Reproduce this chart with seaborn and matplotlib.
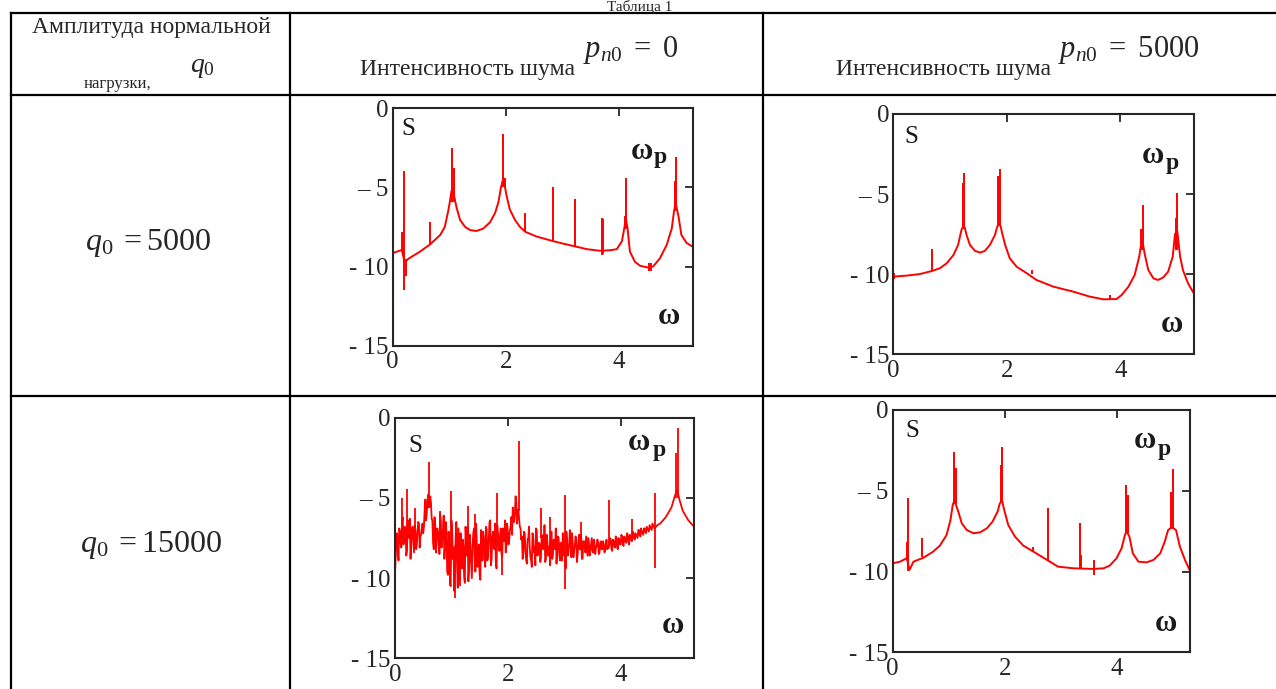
import numpy as np
import pandas as pd
import matplotlib
matplotlib.use("Agg")
import matplotlib.pyplot as plt
import seaborn as sns

# ---------------- data ----------------
x_ticks = [0, 2, 4]
x_ticklabels = ["0", "2", "4"]
y_ticks = [0, -5, -10, -15]
y_ticklabels = ["0", "\u2013 5", "- 10", "- 15"]

# panel 1: q0 = 5000, p_n0 = 0
s1_w = [0, 0.16, 0.21, 0.25, 0.28, 0.48, 0.66, 0.84, 0.92, 0.98, 1.01, 1.04, 1.07, 1.1, 1.13,
        1.19, 1.28, 1.37, 1.48, 1.6, 1.72, 1.81, 1.87, 1.91, 1.94, 1.97, 2.01, 2.07, 2.16, 2.25,
        2.34, 2.54, 2.84, 3.07, 3.43, 3.66, 3.84, 3.96, 4.05, 4.09, 4.12, 4.15, 4.19, 4.28, 4.37,
        4.52, 4.6, 4.72, 4.84, 4.93, 4.97, 5.0, 5.05, 5.1, 5.19, 5.3]
s1_S = [-9.15, -8.95, -9.7, -9.6, -9.5, -9.06, -8.6, -8.0, -7.5, -6.5, -5.9, -5.2, -5.3, -5.8, -6.3,
        -7.05, -7.5, -7.7, -7.75, -7.6, -7.2, -6.6, -5.9, -5.05, -4.6, -4.7, -5.5, -6.4, -7.05, -7.5,
        -7.8, -8.1, -8.4, -8.6, -8.9, -9.0, -8.97, -8.9, -8.4, -7.6, -7.0, -7.6, -9.05, -9.7, -9.95,
        -10.07, -10.0, -9.48, -8.64, -7.6, -6.5, -6.0, -6.85, -8.0, -8.5, -8.75]
spk1_w = [0.17, 0.20, 0.23, 0.66, 1.05, 1.08, 1.95, 1.98, 2.34, 2.84, 3.22, 3.69, 3.72, 4.10, 4.12,
          4.52, 4.56, 4.98, 5.00]
spk1_lo = [-9.0, -11.5, -10.6, -8.6, -5.9, -5.9, -5.0, -5.0, -7.8, -8.4, -8.7, -9.3, -9.2, -7.6, -7.6,
           -10.3, -10.3, -6.5, -6.5]
spk1_hi = [-7.8, -3.96, -9.5, -7.2, -2.5, -3.8, -1.6, -4.4, -6.6, -4.95, -5.7, -6.95, -7.0, -6.8, -4.4,
           -9.8, -9.8, -4.6, -3.05]

# panel 2: q0 = 5000, p_n0 = 5000
s2_w = [0, 0.23, 0.47, 0.68, 0.82, 0.94, 1.06, 1.14, 1.2, 1.23, 1.26, 1.29, 1.35, 1.44, 1.53,
        1.61, 1.7, 1.79, 1.83, 1.86, 1.89, 1.91, 1.97, 2.05, 2.17, 2.35, 2.52, 2.82, 3.17, 3.46,
        3.7, 3.93, 4.02, 4.14, 4.25, 4.33, 4.37, 4.4, 4.43, 4.49, 4.58, 4.66, 4.75, 4.84, 4.92,
        4.96, 5.0, 5.05, 5.1, 5.19, 5.3]
s2_S = [-10.15, -10.09, -9.99, -9.8, -9.63, -9.32, -8.8, -8.18, -7.24, -7.0, -7.1, -7.55, -8.18, -8.55, -8.65,
        -8.55, -8.18, -7.55, -7.03, -6.9, -7.0, -7.34, -8.18, -9.0, -9.53, -9.94, -10.36, -10.78, -11.09, -11.4,
        -11.57, -11.55, -11.3, -10.78, -10.05, -8.9, -8.0, -8.2, -8.8, -9.74, -10.26, -10.36, -10.21, -9.84, -8.9,
        -7.5, -7.3, -8.9, -9.74, -10.57, -11.25]
spk2_w = [0.02, 0.68, 1.22, 1.24, 1.85, 1.87, 2.45, 3.81, 4.37, 4.40, 4.97, 5.00]
spk2_lo = [-10.3, -9.8, -7.2, -7.2, -7.0, -7.0, -10.0, -11.6, -8.5, -8.5, -8.5, -8.5]
spk2_hi = [-9.9, -8.43, -4.3, -3.7, -3.9, -3.43, -9.75, -11.3, -7.2, -5.68, -6.5, -4.95]

# panel 3: q0 = 15000, p_n0 = 0 (noisy; read every 0.025 from 0 to 4.6 and at the midpoints)
s3_dense_S = [
    -9.7, -7.6, -8.3, -6.9, -7.8,
    -6.5, -7.9, -6.8, -8.6, -6.4, -7.5, -8.8, -6.9, -7.6, -6.7, -8.2, -7.0, -6.6, -7.4, -6.9, -7.2,
    -5.8, -6.4, -5.2, -5.6, -4.9, -6.3,
    -7.8, -6.2, -8.4, -6.9, -7.6, -6.0, -8.1, -7.0, -8.8, -6.5,
    -9.6, -7.1, -10.4, -6.4, -8.8, -10.8, -7.4, -9.2, -6.9, -10.1, -8.2, -7.6, -9.9, -6.8, -8.6, -10.2,
    -7.3, -9.1, -8.0, -6.9, -9.6, -7.7, -8.4, -9.8, -7.0, -8.9, -7.5, -9.3,
    -7.0, -8.6, -6.5, -9.2, -7.4, -8.1, -6.6, -9.4, -7.2, -8.3, -6.9, -8.7, -7.5, -6.4, -8.0, -7.1,
    -7.6, -6.8, -7.3, -6.5,
    -6.0, -5.3, -5.9, -6.3, -6.9, -7.4,
    -8.4, -7.2, -8.9, -7.6, -6.8, -8.7, -9.3, -7.4, -8.1, -6.9, -8.6, -7.8, -9.0, -7.3, -8.2, -6.7,
    -8.8, -7.7, -8.3, -9.2, -7.1, -8.5, -7.9, -6.9, -8.4, -7.5, -8.9, -8.0, -7.2, -8.6, -9.4, -7.6,
    -8.1, -7.0, -8.7, -7.8, -8.3, -7.4, -9.0, -7.9, -8.2, -7.3, -8.8, -7.7, -8.4, -8.0, -7.5, -8.6,
    -7.9, -8.3, -7.6, -8.5, -8.0, -7.8, -8.4, -7.7, -8.2, -7.9, -8.3, -7.6, -8.1, -7.9,
    -7.6, -8.3, -7.7, -8.1, -7.5, -8.2, -7.6, -7.9, -7.4, -8.0, -7.5, -7.8, -7.3, -7.9, -7.4, -7.7,
    -7.2, -7.6, -7.3, -7.5, -7.0, -7.4, -7.1, -7.3, -6.9, -7.2, -6.9, -7.1, -6.8, -7.0, -6.7, -6.9]
s3_mid_S = [
    -8.6, -7.2, -8.9, -7.1,
    -8.1, -6.2, -7.7, -6.9, -8.3, -7.0, -6.3, -8.0, -6.8, -8.4, -7.1, -7.9, -6.5, -8.1, -7.3, -6.6,
    -6.8, -5.1, -6.0, -4.8, -5.5, -5.3,
    -6.4, -8.2, -6.6, -7.9, -7.2, -8.5, -6.4, -7.6, -6.1, -8.0,
    -7.2, -9.8, -7.8, -10.5, -7.0, -8.1, -9.6, -6.5, -10.6, -8.4, -7.2, -9.4, -8.0, -10.3, -7.5, -6.8,
    -9.5, -8.1, -10.0, -7.2, -8.7, -6.6, -9.3, -7.9, -10.1, -8.2, -7.1,
    -8.6, -6.8, -8.9, -7.6, -6.4, -8.8, -7.1, -8.2, -9.0, -6.7, -7.9, -7.3, -8.5, -6.9, -7.7, -8.4,
    -6.6, -7.9, -7.0, -6.2,
    -5.6, -6.5, -4.9, -6.6, -5.7, -6.8,
    -7.6, -8.8, -7.1, -8.3, -9.1, -7.5, -8.0, -8.9, -7.2, -8.4, -9.2, -7.0, -8.5, -7.9, -8.7, -7.4,
    -8.1, -9.0, -7.3, -8.6, -8.0, -7.2, -8.8, -7.6, -8.2, -9.1, -7.4, -8.5, -7.8, -8.9, -7.5, -8.3,
    -7.1, -8.6, -7.9, -8.4, -7.2, -8.7, -8.0, -7.6, -8.5, -7.3, -8.2, -8.8, -7.7, -8.1, -7.4, -8.6,
    -7.8, -8.3, -7.5, -8.4, -7.9, -8.1, -7.6, -8.5, -7.8, -8.2, -7.7, -8.4, -7.8, -8.2,
    -8.1, -7.5, -8.2, -7.6, -8.0, -7.4, -8.1, -7.5, -7.9, -7.3, -7.8, -7.4, -7.7, -7.2, -7.7, -7.3,
    -7.6, -7.1, -7.5, -7.2, -7.4, -7.0, -7.3, -6.9, -7.2, -6.9, -7.1, -6.8, -7.0, -6.7, -6.9, -6.6,
    -6.8]
s3_tail_w = [4.65, 4.7, 4.75, 4.8, 4.85, 4.9, 4.95, 5.0, 5.05, 5.1, 5.15, 5.2, 5.25, 5.3]
s3_tail_S = [-6.7, -6.6, -6.4, -6.2, -5.9, -5.6, -5.0, -4.5, -5.2, -5.8, -6.1, -6.4, -6.6, -6.8]
spk3_w = [0.12, 0.22, 0.35, 0.61, 0.80, 0.99, 1.06, 1.15, 1.30, 1.42, 1.50, 1.80, 1.90, 2.19, 2.58,
          2.75, 3.01, 3.30, 3.79, 4.20, 4.60, 4.98, 5.01]
spk3_lo = [-7.5, -7.5, -7.6, -5.5, -7.5, -8.5, -11.26, -10.5, -8.0, -8.0, -10.0, -7.5, -9.8, -5.8, -7.5,
           -8.0, -10.7, -8.0, -8.0, -7.4, -9.4, -5.0, -5.0]
spk3_hi = [-5.0, -4.45, -5.6, -2.78, -5.8, -4.57, -8.0, -8.0, -5.5, -6.0, -8.0, -4.7, -7.8, -1.45, -5.6,
           -6.2, -4.85, -6.5, -5.1, -6.3, -4.7, -2.2, -0.66]

# panel 4: q0 = 15000, p_n0 = 5000
s4_w = [0, 0.13, 0.25, 0.3, 0.37, 0.55, 0.72, 0.84, 0.96, 1.03, 1.07, 1.1, 1.13, 1.17, 1.23,
        1.32, 1.44, 1.56, 1.68, 1.78, 1.87, 1.91, 1.95, 1.98, 2.06, 2.18, 2.33, 2.51, 2.75, 2.95,
        3.22, 3.58, 3.76, 3.87, 3.99, 4.08, 4.14, 4.17, 4.22, 4.28, 4.38, 4.53, 4.65, 4.77, 4.85,
        4.91, 4.96, 5.0, 5.05, 5.12, 5.21, 5.3]
s4_S = [-9.49, -9.39, -9.18, -9.9, -9.39, -9.14, -8.77, -8.4, -7.74, -6.81, -5.88, -5.6, -5.9, -6.29, -7.01,
        -7.43, -7.63, -7.57, -7.32, -6.91, -6.29, -5.78, -5.6, -6.09, -7.12, -7.84, -8.4, -8.77, -9.28, -9.7,
        -9.8, -9.84, -9.8, -9.63, -9.18, -8.56, -7.74, -7.5, -7.84, -8.87, -9.39, -9.43, -9.28, -8.87, -8.15,
        -7.43, -7.3, -7.3, -7.43, -8.46, -9.28, -9.96]
spk4_w = [0.26, 0.28, 0.53, 1.10, 1.13, 1.93, 1.95, 2.50, 2.76, 3.34, 3.36, 3.58, 4.16, 4.19, 4.97, 5.00]
spk4_lo = [-9.2, -9.96, -9.1, -5.8, -5.8, -5.7, -5.7, -8.8, -9.28, -9.8, -9.8, -10.2, -7.6, -7.6, -7.3, -7.3]
spk4_hi = [-8.2, -5.43, -7.9, -2.58, -3.6, -3.4, -2.27, -8.5, -6.05, -7.01, -9.0, -9.28, -4.64, -5.26, -5.05, -3.65]

# ---------------- style ----------------
sns.set_theme(style="white")
plt.rcParams['font.family'] = ['Liberation Serif', 'DejaVu Serif']
plt.rcParams['mathtext.fontset'] = 'custom'
plt.rcParams['mathtext.rm'] = 'Liberation Serif'
plt.rcParams['mathtext.it'] = 'Liberation Serif:italic'
plt.rcParams['mathtext.bf'] = 'Liberation Serif:bold'

W, H = 1276, 689
fig = plt.figure(figsize=(W / 100, H / 100), dpi=100)
fig.patch.set_facecolor('white')


def axes_px(l, t, r, b):
    return fig.add_axes([l / W, 1 - b / H, (r - l) / W, (b - t) / H])


# merge the two readings of panel 3 in order of frequency
n_dense = len(s3_dense_S)
w_dense = np.round(np.arange(n_dense) * 0.025, 4)
w_mid = np.round(np.arange(len(s3_mid_S)) * 0.025 + 0.0125, 4)
s3_w = np.concatenate([w_dense, w_mid, s3_tail_w])
s3_S = np.concatenate([s3_dense_S, s3_mid_S, s3_tail_S])
order = np.argsort(s3_w, kind='stable')
s3_w, s3_S = s3_w[order], s3_S[order]

panels = [
    dict(box=(392.7, 108.3, 692.7, 345.7), w=s1_w, S=s1_S, sw=spk1_w, lo=spk1_lo, hi=spk1_hi, lw=1.4),
    dict(box=(893.3, 114.0, 1194.3, 354.3), w=s2_w, S=s2_S, sw=spk2_w, lo=spk2_lo, hi=spk2_hi, lw=1.4),
    dict(box=(395.0, 417.7, 694.0, 658.3), w=s3_w, S=s3_S, sw=spk3_w, lo=spk3_lo, hi=spk3_hi, lw=1.3),
    dict(box=(892.7, 410.0, 1190.0, 652.3), w=s4_w, S=s4_S, sw=spk4_w, lo=spk4_lo, hi=spk4_hi, lw=1.4),
]

red = '#ff0000'
frame = '#262626'
for p in panels:
    ax = axes_px(*p['box'])
    df = pd.DataFrame({'w': p['w'], 'S': p['S']})
    sns.lineplot(data=df, x='w', y='S', ax=ax, color=red, lw=p['lw'],
                 estimator=None, sort=False)
    ax.vlines(p['sw'], p['lo'], p['hi'], color=red, lw=p['lw'])
    ax.set_xlim(0, 5.3)
    ax.set_ylim(-15, 0)
    ax.set_xticks(x_ticks)
    ax.set_xticklabels(x_ticklabels)
    ax.set_yticks(y_ticks)
    ax.set_yticklabels(y_ticklabels)
    ax.set_xlabel('')
    ax.set_ylabel('')
    ax.tick_params(direction='in', length=6, width=1.3, top=True, right=True,
                   labelsize=18, colors=frame, pad=3)
    ax.tick_params(axis='x', pad=4)
    for sp in ax.spines.values():
        sp.set_visible(True)
        sp.set_color(frame)
        sp.set_linewidth(1.5)
    ax.set_facecolor('white')

# ---------------- overlay: table and texts (pixel coordinates) ----------------
ov = fig.add_axes([0, 0, 1, 1], zorder=10)
ov.set_xlim(0, W)
ov.set_ylim(H, 0)
ov.axis('off')
ov.patch.set_alpha(0)

lw_tab = 1.6
for y in (13, 95, 395.5):
    ov.plot([11, W + 5], [y, y], color='black', lw=lw_tab, solid_capstyle='projecting')
for x in (11, 290, 763):
    ov.plot([x, x], [13, H + 5], color='black', lw=lw_tab, solid_capstyle='projecting')

ov.text(640, 0.5, 'Таблица 1', ha='center', va='top', fontsize=11)
ov.text(151, 28, 'Амплитуда нормальной', ha='center', va='center', fontsize=17)
ov.text(84, 84, 'нагрузки,', ha='left', va='center', fontsize=12)
ov.text(190, 67, r'$q_0$', ha='left', va='center', fontsize=20)
ov.text(360, 70, 'Интенсивность шума', ha='left', va='center', fontsize=17)
ov.text(583, 50, r'$p_{n0}\ =\ 0$', ha='left', va='center', fontsize=22)
ov.text(836, 70, 'Интенсивность шума', ha='left', va='center', fontsize=17)
ov.text(1058, 50, r'$p_{n0}\ =\ 5000$', ha='left', va='center', fontsize=22)
ov.text(85, 243, r'$q_0\;=5000$', ha='left', va='center', fontsize=23)
ov.text(80, 545, r'$q_0\;=15000$', ha='left', va='center', fontsize=23)

labels = [
    dict(S=(408.3, 129), w=(641.7, 151.5), p=(660.5, 157.7), wb=(668.5, 316.5)),
    dict(S=(911.7, 136.7), w=(1153.3, 155.8), p=(1172.5, 164), wb=(1171.7, 325)),
    dict(S=(415.8, 445.8), w=(639.2, 442.5), p=(659.2, 450.8), wb=(673.3, 625.8)),
    dict(S=(912.5, 430.8), w=(1145, 440), p=(1164.2, 449.2), wb=(1165.8, 623.3)),
]
for lb in labels:
    ov.text(*lb['S'], 'S', ha='center', va='center', fontsize=18, color='#1a1a1a')
    ov.text(*lb['w'], '\u03c9', ha='center', va='center', fontsize=22, fontweight='bold', color='#1a1a1a')
    ov.text(*lb['p'], 'p', ha='center', va='center', fontsize=17, fontweight='bold', color='#1a1a1a')
    ov.text(*lb['wb'], '\u03c9', ha='center', va='center', fontsize=22, fontweight='bold', color='#1a1a1a')

fig.savefig('out.png', dpi=100, facecolor='white')
